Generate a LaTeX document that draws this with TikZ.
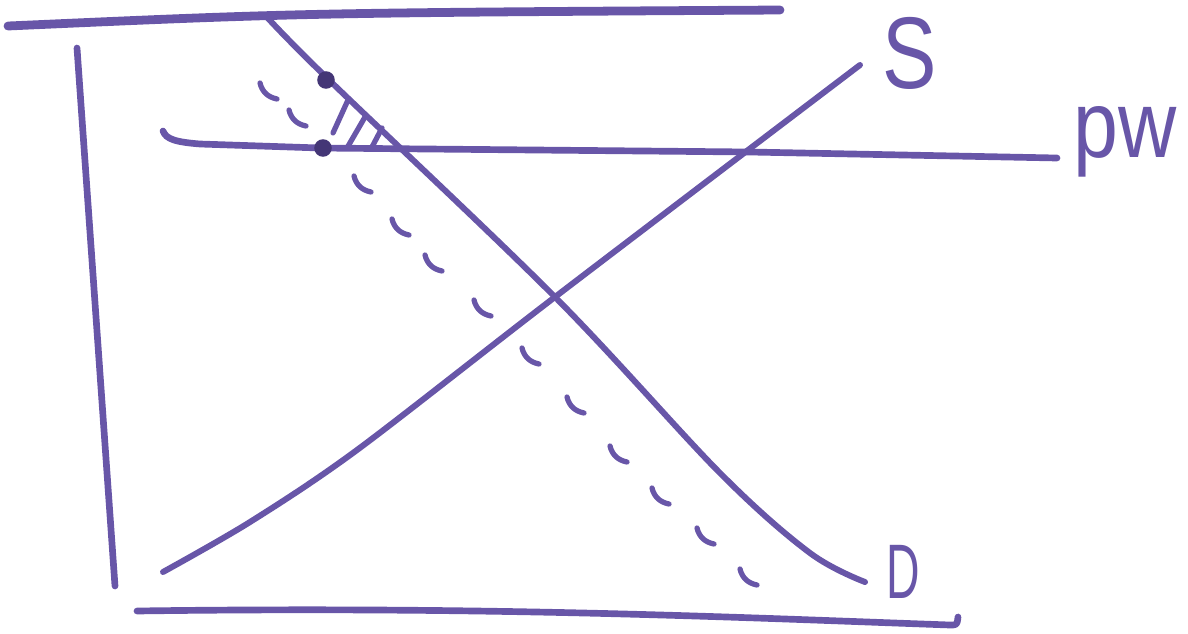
\documentclass[tikz,border=0pt]{standalone}
\usepackage{fontspec}
\setmainfont{Liberation Sans}
\definecolor{ink}{RGB}{104,86,168}
\definecolor{inkdark}{RGB}{68,54,118}
\begin{document}
\begin{tikzpicture}[x=0.02cm,y=-0.02cm, line cap=round, line join=round,
  pen/.style={draw=ink, line width=3.4pt},
  thickpen/.style={draw=ink, line width=5pt},
  dashpen/.style={draw=ink, line width=3pt},
  dotmark/.style={fill=inkdark},
  lbl/.style={text=ink, inner sep=0pt}]
\useasboundingbox (0,0) rectangle (1188,633);
% named coordinates
\coordinate (tl) at (8,26);
\coordinate (tr) at (780,10);
\coordinate (ytop) at (77,48);
\coordinate (ybot) at (115,586);
\coordinate (bl) at (137,611);
\coordinate (br) at (950,625);
\coordinate (pwl) at (163,131);
\coordinate (pwr) at (1057,158);
\coordinate (dot1) at (326,80);
\coordinate (dot2) at (323,148);
% frame lines
\draw[thickpen] (tl) .. controls (300,13) .. (tr);
\draw[pen, line width=3.8pt] (ytop) -- (ybot);
\draw[pen, line width=3.8pt] (bl) .. controls (500,606) and (750,618) .. (br)
  .. controls (957,625) .. (958,617);
% world price line
\draw[pen, line width=3.8pt] (pwl) .. controls (166,139) and (175,142) .. (200,144) -- (320,148) -- (750,152) -- (pwr);
% supply
\draw[pen] plot[smooth, tension=0.5] coordinates {(163,572) (250,522) (357,450) (555,297) (860,65)};
% demand
\draw[pen] plot[smooth, tension=0.55] coordinates {(265,15) (327,78) (555,297) (720,473) (810,553) (865,582)};
% dashed shifted demand
\foreach \px/\py in {268/92, 297/119, 362/185, 400/228, 433/264, 482/309, 530/357, 575/406, 618/455, 660/497, 705/537, 748/578}
  \draw[dashpen] (\px-8,\py-9) .. controls (\px-6,\py-1) and (\px-1,\py+5) .. (\px+9,\py+7);
% hatching
\draw[dashpen] (348,100) -- (333,133);
\draw[dashpen] (365,117) -- (347,148);
\draw[dashpen] (382,128) -- (372,147);
% dots
\fill[dotmark] (dot1) circle[radius=5pt];
\fill[dotmark] (dot2) circle[radius=5pt];
% labels
\node[lbl, anchor=base, font=\fontsize{58}{60}\selectfont] (S) at (910,88) {\scalebox{0.8}[1]{S}};
\node[lbl, anchor=base, font=\fontsize{54}{56}\selectfont] (pw) at (1125,157) {\scalebox{0.85}[1]{pw}};
\node[lbl, anchor=base, font=\fontsize{44}{46}\selectfont] (D) at (903,598) {\scalebox{0.6}[1]{D}};
\end{tikzpicture}
\end{document}
